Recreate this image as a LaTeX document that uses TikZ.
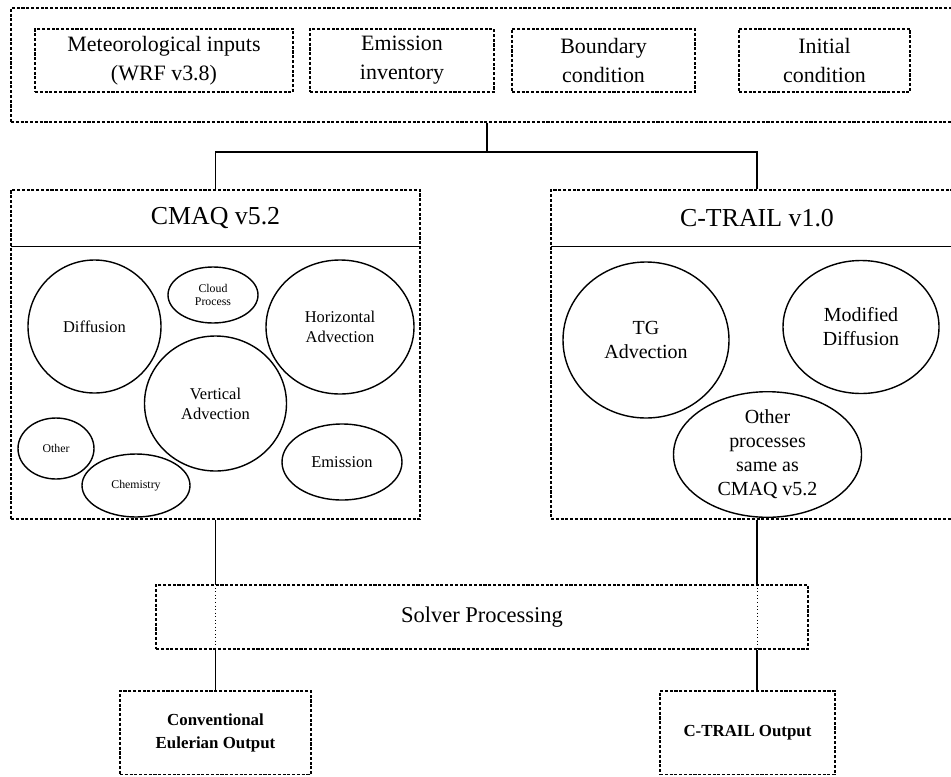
\documentclass[tikz,border=0pt]{standalone}
\usepackage{fontspec}
\setmainfont{Liberation Serif}
\usetikzlibrary{shapes.geometric}

\begin{document}
\begin{tikzpicture}[x=0.025cm,y=-0.025cm,
		wh/.style 2 args={minimum width=#1*0.025cm,minimum height=#2*0.025cm}]
		\tikzstyle{dbox}=[draw,dash pattern=on 2.2pt off 1.2pt,line width=0.85pt,inner sep=0pt,align=center]
		\tikzstyle{proc}=[draw,ellipse,line width=1pt,inner sep=0pt,align=center]
		\tikzstyle{link}=[line width=0.9pt]
		\tikzstyle{thru}=[line width=0.5pt,dotted]
		\tikzstyle{big}=[font=\fontsize{15.6}{20.5}\selectfont]
		\tikzstyle{head}=[font=\fontsize{18.4}{22}\selectfont]
		\tikzstyle{mid}=[font=\fontsize{11.7}{14.2}\selectfont]
		\tikzstyle{small}=[font=\fontsize{8.4}{9.8}\selectfont]
		\tikzstyle{right}=[font=\fontsize{14.2}{17}\selectfont]
		\tikzstyle{outtext}=[font=\bfseries\fontsize{12}{16.5}\selectfont]
		\useasboundingbox (0,0) rectangle (951,776);
		% inputs
		\node[dbox,wh={949}{114}] (inputs) at (485.5,65) {};
		\node[dbox,big,wh={258}{63}] (met) at (164,60.5) {Meteorological inputs\\(WRF v3.8)};
		\node[dbox,big,wh={184}{63}] (emis) at (402,60.5) {Emission\\inventory};
		\node[dbox,big,wh={183}{63}] (bound) at (603.5,60.5) {Boundary\\condition};
		\node[dbox,big,wh={171}{63}] (init) at (824.5,60.5) {Initial\\condition};
		\coordinate (split) at (487,152);
		% models
		\node[dbox,wh={409}{329}] (cmaq) at (215.5,354.5) {};
		\node[head,wh={409}{56}] (cmaqhead) at (215.5,218) {CMAQ v5.2};
		\node[dbox,wh={412}{329}] (ctrail) at (757,354.5) {};
		\node[head,wh={412}{56}] (ctrailhead) at (757,218) {C-TRAIL v1.0};
		\draw[link] (cmaqhead.south west) -- (cmaqhead.south east);
		\draw[link] (ctrailhead.south west) -- (ctrailhead.south east);
		% cmaq processes
		\node[proc,mid,wh={133}{133}] (diff) at (94.5,326.5) {Diffusion};
		\node[proc,small,wh={90}{56}] (cloud) at (213,295) {Cloud\\Process};
		\node[proc,mid,wh={148}{134}] (hadv) at (340,327) {Horizontal\\Advection};
		\node[proc,mid,wh={142}{135}] (vadv) at (215.5,403.5) {Vertical\\Advection};
		\node[proc,small,wh={76}{61}] (other) at (56,448.5) {Other};
		\node[proc,small,wh={108}{63}] (chem) at (136,485.5) {Chemistry};
		\node[proc,mid,wh={120}{76}] (emiss) at (342,462) {Emission};
		% c-trail processes
		\node[proc,right,wh={166}{156}] (tgadv) at (646,340) {TG\\Advection};
		\node[proc,right,wh={156}{133}] (mdiff) at (861,327) {Modified\\Diffusion};
		\node[proc,right,wh={188}{115}] (same) at (767.5,454.5) {Other\\processes\\same as\\CMAQ v5.2};
		% solver and outputs
		\node[dbox,wh={652}{64},font=\fontsize{16}{19}\selectfont] (solver) at (482,617) {Solver Processing};
		\node[dbox,outtext,wh={191}{83.5}] (eulout) at (215.5,732.75) {Conventional\\Eulerian Output};
		\node[dbox,outtext,wh={175}{83.5}] (ctout) at (747.5,732.75) {C-TRAIL Output};
		% links
		\draw[link] (split |- inputs.south) -- (split);
		\draw[link] (cmaq.north) |- (split) -| (ctrail.north);
		\draw[link] (cmaq.south) -- (cmaq.south |- solver.north);
		\draw[thru] (cmaq.south |- solver.north) -- (cmaq.south |- solver.south);
		\draw[link] (cmaq.south |- solver.south) -- (eulout.north);
		\draw[link] (ctrail.south) -- (ctrail.south |- solver.north);
		\draw[thru] (ctrail.south |- solver.north) -- (ctrail.south |- solver.south);
		\draw[link] (ctrail.south |- solver.south) -- (ctrail.south |- ctout.north);
	\end{tikzpicture}
\end{document}
